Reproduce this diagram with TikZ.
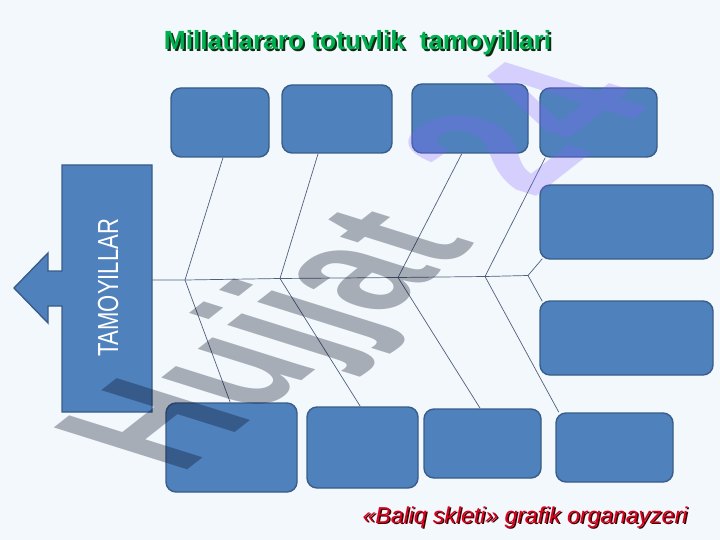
\documentclass[tikz,border=0pt]{standalone}
\usepackage{fontspec}
\setmainfont{Liberation Sans}
\usetikzlibrary{calc}
\definecolor{bgcol}{RGB}{243,248,252}
\definecolor{boxfill}{RGB}{79,129,189}
\definecolor{boxedge}{RGB}{56,93,138}
\definecolor{bonecol}{RGB}{80,95,125}
\definecolor{titlegreen}{RGB}{0,176,80}
\definecolor{titleshadow}{RGB}{12,45,20}
\definecolor{subred}{RGB}{215,0,30}
\definecolor{subshadow}{RGB}{60,0,0}
\definecolor{wmgray}{RGB}{0,8,28}
\definecolor{wmlav}{RGB}{130,100,255}
\newcommand{\shadowtext}[4]{\rlap{\hspace{#2}\raisebox{-#2}{\color{#3}#1}}{\color{#4}#1}}
\tikzset{
  fishbox/.style={draw=boxedge, fill=boxfill, line width=1.4pt, rounded corners=10pt, inner sep=0pt},
  bone/.style={draw=bonecol, line width=0.7pt},
}
\begin{document}
\begin{tikzpicture}[x=1pt, y=-1pt]
\useasboundingbox (0,0) rectangle (720,540);
\fill[bgcol] (0,0) rectangle (720,540);

% left arrow block
\draw[draw=boxedge, fill=boxfill, line width=1.4pt, line join=miter]
  (62,165) -- (152,165) -- (152,412) -- (62,412) -- (62,306) -- (48,306)
  -- (48,323) -- (14,288) -- (48,253) -- (48,271) -- (62,271) -- cycle;
\coordinate (s0) at (152,280);

% junctions on the spine
\coordinate (j1) at (185,280);
\coordinate (j2) at (280,278.5);
\coordinate (j3) at (398,277.5);
\coordinate (j4) at (485,276.5);
\coordinate (j5) at (528,275.5);

% boxes
\node[fishbox, minimum width=98pt,  minimum height=69pt] (b1)  at (220,122.5) {};
\node[fishbox, minimum width=110pt, minimum height=68pt] (b2)  at (337,119) {};
\node[fishbox, minimum width=116pt, minimum height=69pt] (b3)  at (470,118.5) {};
\node[fishbox, minimum width=117pt, minimum height=69pt] (b4)  at (598.5,122.5) {};
\node[fishbox, minimum width=173pt, minimum height=74pt] (b5)  at (626.5,222) {};
\node[fishbox, minimum width=173pt, minimum height=74pt] (b6)  at (626.5,338) {};
\node[fishbox, minimum width=131pt, minimum height=89pt] (b7)  at (231.5,447.5) {};
\node[fishbox, minimum width=111pt, minimum height=81pt] (b8)  at (362.5,447.5) {};
\node[fishbox, minimum width=117pt, minimum height=69pt] (b9)  at (482.5,443.5) {};
\node[fishbox, minimum width=117pt, minimum height=69pt] (b10) at (614.5,447.5) {};

% skeleton
\draw[bone] (s0) -- (j1) -- (j2) -- (j3) -- (j4) -- (j5);
\draw[bone] ($(b1.south west)!0.53!(b1.south east)$) -- (j1) -- ($(b7.north west)!0.49!(b7.north east)$);
\draw[bone] ($(b2.south west)!0.33!(b2.south east)$) -- (j2) -- ($(b8.north west)!0.48!(b8.north east)$);
\draw[bone] ($(b3.south west)!0.43!(b3.south east)$) -- (j3) -- ($(b9.north west)!0.48!(b9.north east)$);
\draw[bone] ($(b4.south west)!0.05!(b4.south east)$) -- (j4) -- ($(b10.north west)!0.03!(b10.north east)$);
\draw[bone] ($(b5.south west)+(3,-1)$) -- (j5) -- ($(b6.north west)+(3,1)$);

% watermark
\begin{scope}[shift={(180,476)}, cm={1.07,0.84,-1.94,0.61,(0,0)}]
  \node[transform shape, anchor=base west, inner sep=0pt, text=wmgray, text opacity=0.31,
        font=\bfseries\fontsize{100}{100}\selectfont] (wm1) at (0,0) {Hujjat};
\end{scope}
\begin{scope}[shift={(532,200)}, cm={1.07,0.84,-1.94,0.61,(0,0)}]
  \node[transform shape, anchor=base west, inner sep=0pt, text=wmlav, text opacity=0.27,
        font=\bfseries\fontsize{108}{108}\selectfont] (wm2) at (0,0) {24};
\end{scope}

% vertical label
\node[rotate=90, anchor=base, inner sep=0pt, text=white] (lbl) at (118,288)
  {\scalebox{0.76}[1]{\fontsize{29}{29}\selectfont TAMOYILLAR}};

% title (with drop shadow)
\node[anchor=base, inner sep=0pt, font=\bfseries\fontsize{26.3}{30}\selectfont] (title) at (357.5,50)
  {\shadowtext{Millatlararo totuvlik \ tamoyillari}{2pt}{titleshadow}{titlegreen}};

% subtitle (with drop shadow)
\node[anchor=base, inner sep=0pt, font=\itshape\fontsize{23}{26}\selectfont] (sub) at (525,523)
  {\shadowtext{«Baliq skleti» grafik organayzeri}{1.5pt}{subshadow}{subred}};
\end{tikzpicture}
\end{document}
